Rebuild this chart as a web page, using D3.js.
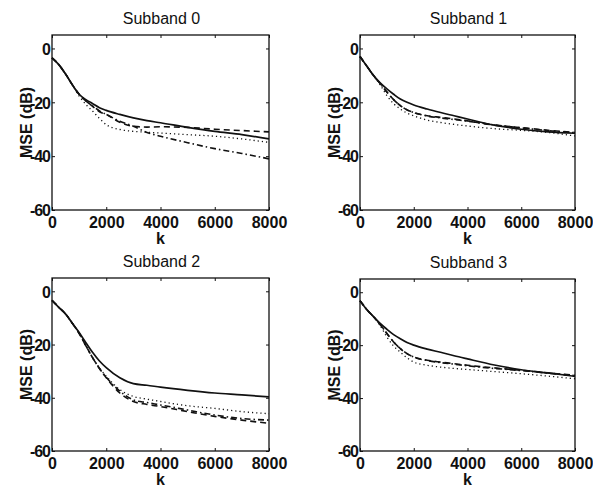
<!DOCTYPE html>
<html><head><meta charset="utf-8">
<script src="https://cdn.jsdelivr.net/npm/d3@7"></script>
<style>body{margin:0;background:#fff}svg{display:block}</style>
</head><body>
<svg id="c" width="593" height="487"></svg>
<script>
// ---- data ----
const kValues = [0, 250, 500, 750, 1000, 1250, 1500, 1750, 2000, 2500, 3000, 3500, 4000, 5000, 6000, 7000, 8000];
const xTicks = [0, 2000, 4000, 6000, 8000];
const yTicks = [-60, -40, -20, 0];
const titles = ["Subband 0", "Subband 1", "Subband 2", "Subband 3"];

const sb0Solid   = [-3.5, -6, -9.5, -13.5, -17, -19, -20.5, -22, -23, -24.5, -25.8, -26.8, -27.6, -29.3, -30.8, -32, -33.6];
const sb0Dashed  = [-3.5, -6, -9.5, -13.5, -17, -19.5, -21.5, -23.5, -24.5, -27.4, -28.9, -29.2, -29.1, -29.3, -30, -30.5, -31];
const sb0DashDot = [-3.5, -6, -9.5, -13.5, -17, -19.5, -21.4, -23.2, -24.5, -27, -28.9, -31.2, -32.6, -35, -37.2, -39, -41];
const sb0Dotted  = [-3.5, -6, -9.5, -13.5, -17.7, -20.8, -23.3, -26, -28.3, -30.1, -30.8, -31.1, -31.4, -32, -32.6, -33.6, -34.9];

const sb1Solid   = [-3, -6.5, -10, -12.8, -15, -17, -18.8, -20, -21, -22.5, -23.8, -25, -26.2, -28.5, -30, -31, -31.5];
const sb1Dashed  = [-3, -6.5, -10, -13, -16.2, -19, -21.2, -22.8, -23.8, -25, -25.6, -26.2, -26.9, -28.5, -29.4, -30.4, -31.2];
const sb1DashDot = [-3, -6.5, -10, -13, -16.2, -19, -21.2, -22.8, -23.8, -25.1, -25.8, -26.4, -27, -28.4, -29.5, -30.5, -31.3];
const sb1Dotted  = [-3, -6.5, -10, -13.5, -17.5, -20.5, -22.5, -24, -25, -26.6, -27.5, -28.2, -28.8, -29.8, -30.4, -31.2, -32.5];

const sb2Solid   = [-3.4, -6, -8.5, -12, -15.5, -19.3, -23, -26.2, -28.7, -32.5, -34.7, -35.3, -36, -37.2, -38.2, -38.9, -39.7];
const sb2Dashed  = [-3.4, -6, -8.5, -12, -15.8, -20.5, -25, -29, -32.5, -38.2, -41.4, -42.5, -43.3, -45.2, -47, -48.4, -49.6];
const sb2DashDot = [-3.4, -6, -8.5, -12, -15.8, -20.5, -25, -29, -32.3, -37.5, -40.8, -41.8, -42.7, -44.6, -46.5, -47.8, -48.4];
const sb2Dotted  = [-3.4, -6, -8.5, -12, -15.8, -20.3, -25, -28.8, -31.9, -36.9, -39.5, -40.5, -41.4, -43, -44, -45.2, -46];

const sb3Solid   = [-3.2, -6.5, -9.2, -11.8, -14, -16, -17.6, -19, -20, -21.5, -22.7, -24, -25.2, -27.5, -29.3, -30.5, -31.8];
const sb3Dashed  = [-3.2, -6.5, -9.2, -12.2, -15.6, -18.8, -21.3, -23.2, -24.5, -25.7, -26.4, -27, -27.6, -28.6, -29.5, -30.5, -31.4];
const sb3DashDot = [-3.2, -6.5, -9.2, -12.2, -15.6, -18.8, -21.3, -23.2, -24.5, -25.8, -26.6, -27.2, -27.8, -28.8, -29.6, -30.6, -31.5];
const sb3Dotted  = [-3.2, -6.5, -9.2, -12.6, -16.9, -20.3, -22.6, -24.8, -26.4, -27.6, -28.3, -28.8, -29.2, -30, -30.8, -31.7, -32.7];

const panelSeries = [
  [sb0Solid, sb0Dashed, sb0DashDot, sb0Dotted],
  [sb1Solid, sb1Dashed, sb1DashDot, sb1Dotted],
  [sb2Solid, sb2Dashed, sb2DashDot, sb2Dotted],
  [sb3Solid, sb3Dashed, sb3DashDot, sb3Dotted]
];

// ---- layout / styles ----
const panels = [
  {x0: 52, x1: 269, y0: 35, y1: 210},
  {x0: 360, x1: 575, y0: 35, y1: 210},
  {x0: 52, x1: 269, y0: 278, y1: 451},
  {x0: 360, x1: 575, y0: 279, y1: 451}
];
const styles = [
  {dash: null, w: 1.7},
  {dash: "6,4", w: 1.6},
  {dash: "6,3,1.5,3", w: 1.6},
  {dash: "1.2,3", w: 1.3}
];
const ink = "#111";
const font = "'Liberation Sans', Arial, sans-serif";

const svg = d3.select("#c");

panels.forEach((p, i) => {
  const x = d3.scaleLinear().domain([0, 8000]).range([p.x0, p.x1]);
  const y = d3.scaleLinear().domain([-60, 5]).range([p.y1, p.y0]);
  const g = svg.append("g");

  // lines
  const line = d3.line().x((d, j) => x(kValues[j])).y(d => y(d)).curve(d3.curveMonotoneX);
  panelSeries[i].forEach((s, si) => {
    g.append("path").datum(s).attr("d", line)
      .attr("fill", "none").attr("stroke", ink)
      .attr("stroke-width", styles[si].w)
      .attr("stroke-dasharray", styles[si].dash);
  });

  // axes (ticks inward, mirrored)
  const tl = 3;
  const fmt = d => String(d);
  const bottom = g.append("g").attr("transform", `translate(0,${p.y1})`)
    .call(d3.axisBottom(x).tickValues(xTicks).tickSizeInner(-tl).tickSizeOuter(0).tickPadding(6).tickFormat(fmt));
  const left = g.append("g").attr("transform", `translate(${p.x0},0)`)
    .call(d3.axisLeft(y).tickValues(yTicks).tickSizeInner(-tl).tickSizeOuter(0).tickPadding(2).tickFormat(fmt));
  const top = g.append("g").attr("transform", `translate(0,${p.y0})`)
    .call(d3.axisTop(x).tickValues(xTicks).tickSizeInner(-tl).tickSizeOuter(0).tickFormat(""));
  const right = g.append("g").attr("transform", `translate(${p.x1},0)`)
    .call(d3.axisRight(y).tickValues(yTicks).tickSizeInner(-tl).tickSizeOuter(0).tickFormat(""));
  [bottom, left, top, right].forEach(a => {
    a.select(".domain").remove();
    a.selectAll("line").attr("stroke", ink).attr("stroke-width", 1);
    a.selectAll("text").attr("fill", ink).style("font-family", font)
      .style("font-size", "16px").style("font-weight", "bold");
  });
  left.selectAll("text").attr("dy", "0.36em").style("letter-spacing", "-1px");
  bottom.selectAll("text").attr("dy", "0.72em");

  // box
  g.append("rect").attr("x", p.x0).attr("y", p.y0)
    .attr("width", p.x1 - p.x0).attr("height", p.y1 - p.y0)
    .attr("fill", "none").attr("stroke", ink).attr("stroke-width", 1.3);

  // title
  g.append("text").attr("x", (p.x0 + p.x1) / 2 + 1).attr("y", p.y0 - 11)
    .attr("text-anchor", "middle").attr("fill", ink)
    .style("font-family", font).style("font-size", "16px").text(titles[i]);

  // x label
  g.append("text").attr("x", (p.x0 + p.x1) / 2).attr("y", p.y1 + 34)
    .attr("text-anchor", "middle").attr("fill", ink)
    .style("font-family", font).style("font-size", "16px").style("font-weight", "bold").text("k");

  // y label
  g.append("text").attr("transform", `translate(${p.x0 - 26},${(p.y0 + p.y1) / 2}) rotate(-90)`)
    .attr("text-anchor", "middle").attr("dy", "0.36em").attr("fill", ink)
    .style("font-family", font).style("font-size", "16px").style("font-weight", "bold").text("MSE (dB)");
});
</script>
</body></html>
